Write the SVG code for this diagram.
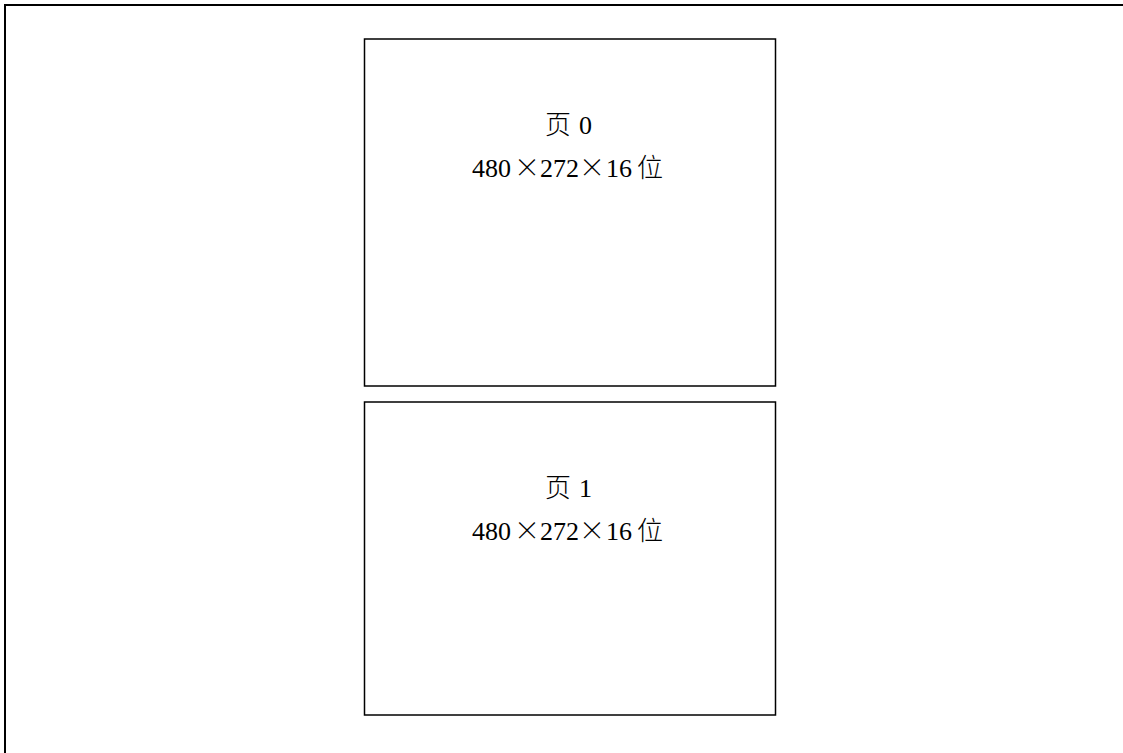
<svg xmlns="http://www.w3.org/2000/svg" width="1123" height="753" viewBox="0 0 1123 753">
<style>
.box{fill:#fff;stroke:#000;stroke-width:1.5}
.t{font-family:"Liberation Serif","Noto Sans CJK SC",serif;font-size:26px;fill:#000}
.c{font-family:"Noto Sans CJK SC","Liberation Serif",sans-serif;font-weight:300}
.x{font-family:"Noto Sans CJK SC","Liberation Serif",sans-serif;font-weight:300;text-anchor:middle}
</style>
<rect x="0" y="0" width="1123" height="753" fill="#fff"/>
<path d="M5,760 L5,5 L1130,5" fill="none" stroke="#000" stroke-width="2"/>
<g id="page0">
<rect class="box" x="364.5" y="39" width="411" height="347"/>
<text class="t" y="134"><tspan class="c" x="545">页</tspan><tspan x="579">0</tspan></text>
<text class="t" y="177"><tspan x="472">480</tspan><tspan x="540">272</tspan><tspan x="606">16</tspan><tspan class="c" x="637">位</tspan></text>
<text class="t x" x="527" y="177">×</text>
<text class="t x" x="592" y="177">×</text>
</g>
<g id="page1">
<rect class="box" x="364.5" y="402" width="411" height="313"/>
<text class="t" y="497"><tspan class="c" x="545">页</tspan><tspan x="579">1</tspan></text>
<text class="t" y="540"><tspan x="472">480</tspan><tspan x="540">272</tspan><tspan x="606">16</tspan><tspan class="c" x="637">位</tspan></text>
<text class="t x" x="527" y="540">×</text>
<text class="t x" x="592" y="540">×</text>
</g>
<g id="connectors"></g>
</svg>
